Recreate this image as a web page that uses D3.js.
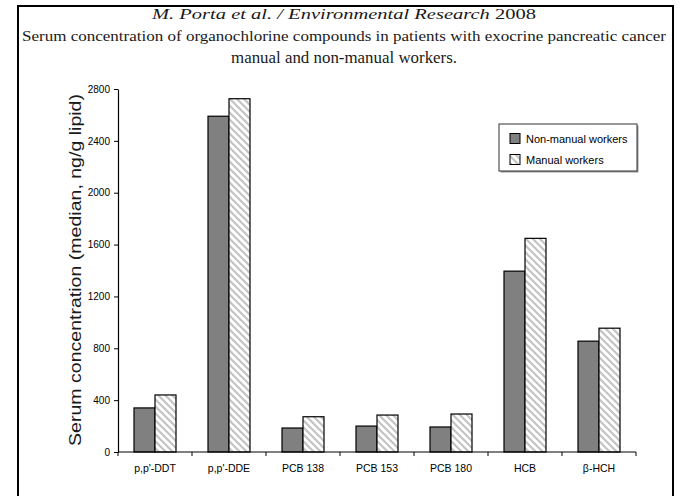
<!DOCTYPE html>
<html>
<head>
<meta charset="utf-8">
<script src="https://cdn.jsdelivr.net/npm/d3@7"></script>
<style>
  html, body { margin: 0; padding: 0; background: #fff; }
  svg { display: block; }
</style>
</head>
<body>
<svg id="chart" width="685" height="496"></svg>
<script>
// Organochlorine compounds and median serum concentrations (ng/g lipid)
const compounds = ["p,p'-DDT", "p,p'-DDE", "PCB 138", "PCB 153", "PCB 180", "HCB", "β-HCH"];
const nonManual = [340, 2590, 185, 200, 193, 1395, 855];
const manual = [440, 2725, 272, 285, 293, 1648, 955];
const seriesNames = ["Non-manual workers", "Manual workers"];
const yTicks = [0, 400, 800, 1200, 1600, 2000, 2400, 2800];

const titleLines = [
  "M. Porta et al. / Environmental Research 2008",
  "Serum concentration of organochlorine compounds in patients with exocrine pancreatic cancer",
  "manual and non-manual workers."
];
const yLabel = "Serum concentration (median, ng/g lipid)";

const svg = d3.select("#chart");
const sans = "'Liberation Sans', Arial, sans-serif";
const serif = "'Liberation Serif', 'Times New Roman', serif";

// Hatch pattern for the manual-worker bars
const defs = svg.append("defs");
const pat = defs.append("pattern")
  .attr("id", "hatch")
  .attr("patternUnits", "userSpaceOnUse")
  .attr("width", 7).attr("height", 7);
pat.append("rect").attr("width", 7).attr("height", 7).attr("fill", "#fff");
pat.append("path")
  .attr("d", "M-1,-1 L8,8 M-1,6 L1,8 M6,-1 L8,1")
  .attr("stroke", "#c4c4c4").attr("stroke-width", 2.2);

// Outer frame
svg.append("rect")
  .attr("x", 18).attr("y", 6).attr("width", 655).attr("height", 520)
  .attr("fill", "none").attr("stroke", "#000").attr("stroke-width", 2);

// Title block
const titleSpec = [
  { y: 19, size: 14, len: 384 },
  { y: 41, size: 14, len: 644 },
  { y: 63, size: 17, len: 226 }
];
titleLines.forEach((t, i) => {
  const s = titleSpec[i];
  const node = svg.append("text")
    .attr("x", 344).attr("y", s.y)
    .attr("text-anchor", "middle")
    .attr("font-family", serif)
    .attr("font-size", s.size)
    .attr("fill", "#1a1a1a");
  if (i === 0) {
    node.append("tspan").attr("font-style", "italic").text("M. Porta et al. / Environmental Research");
    node.append("tspan").text(" 2008");
  } else {
    node.text(t);
  }
  node.attr("textLength", s.len).attr("lengthAdjust", "spacingAndGlyphs");
});

// Scales
const x0 = d3.scaleBand().domain(compounds).range([118, 636]).paddingInner(0).paddingOuter(0);
const x1 = d3.scaleBand().domain(seriesNames).range([0, 42]);
const y = d3.scaleLinear().domain([0, 2800]).range([452, 89]);
const groupOffset = (x0.bandwidth() - 42) / 2;

// Bars
const g = svg.append("g");
const groups = g.selectAll("g.grp")
  .data(compounds.map((c, i) => ({ c, vals: [nonManual[i], manual[i]] })))
  .join("g")
  .attr("transform", d => `translate(${x0(d.c) + groupOffset},0)`);

groups.selectAll("rect")
  .data(d => d.vals.map((v, k) => ({ v, k })))
  .join("rect")
  .attr("x", d => x1(seriesNames[d.k]))
  .attr("y", d => y(d.v))
  .attr("width", x1.bandwidth())
  .attr("height", d => y(0) - y(d.v))
  .attr("fill", d => d.k === 0 ? "#808080" : "url(#hatch)")
  .attr("stroke", "#000")
  .attr("stroke-width", 1.2);

// Y axis
const yAxis = svg.append("g")
  .attr("transform", "translate(118,0)")
  .call(d3.axisLeft(y).tickValues(yTicks).tickFormat(d3.format("d"))
    .tickSize(4).tickSizeOuter(0).tickPadding(4));
yAxis.select(".domain").attr("stroke", "#000").attr("stroke-width", 1.2);
yAxis.selectAll(".tick line").attr("stroke", "#000");
yAxis.selectAll(".tick text")
  .attr("font-family", sans).attr("font-size", 10).attr("fill", "#000");

// X axis: ticks at category boundaries, labels centred in each band
const bounds = compounds.map(c => x0(c)).concat([x0.range()[1]]);
const xAxisG = svg.append("g").attr("transform", `translate(0,${y(0)})`);
xAxisG.append("line")
  .attr("x1", x0.range()[0]).attr("x2", x0.range()[1])
  .attr("stroke", "#000").attr("stroke-width", 1.2);
xAxisG.selectAll("line.tk")
  .data(bounds)
  .join("line")
  .attr("class", "tk")
  .attr("x1", d => d).attr("x2", d => d)
  .attr("y1", 0).attr("y2", 4)
  .attr("stroke", "#000");
xAxisG.selectAll("text")
  .data(compounds)
  .join("text")
  .attr("x", d => x0(d) + x0.bandwidth() / 2)
  .attr("y", 20)
  .attr("text-anchor", "middle")
  .attr("font-family", sans).attr("font-size", 10.5)
  .attr("fill", "#000")
  .text(d => d);

// Y axis title
svg.append("text")
  .attr("transform", "translate(81,270) rotate(-90)")
  .attr("text-anchor", "middle")
  .attr("font-family", sans).attr("font-size", 17)
  .attr("fill", "#1a1a1a")
  .attr("textLength", 352).attr("lengthAdjust", "spacingAndGlyphs")
  .text(yLabel);

// Legend
const lg = svg.append("g").attr("transform", "translate(499,124)");
lg.append("rect")
  .attr("x", 1.5).attr("y", 1.5).attr("width", 138).attr("height", 47)
  .attr("fill", "#999");
lg.append("rect")
  .attr("width", 138).attr("height", 47)
  .attr("fill", "#fff").attr("stroke", "#333").attr("stroke-width", 1);
seriesNames.forEach((name, k) => {
  lg.append("rect")
    .attr("x", 11).attr("y", 9.5 + k * 21)
    .attr("width", 10).attr("height", 10)
    .attr("fill", k === 0 ? "#808080" : "url(#hatch)")
    .attr("stroke", "#000").attr("stroke-width", 1);
  lg.append("text")
    .attr("x", 27).attr("y", 18.5 + k * 21)
    .attr("font-family", sans).attr("font-size", 11)
    .attr("fill", "#000")
    .text(name);
});
</script>
</body>
</html>
